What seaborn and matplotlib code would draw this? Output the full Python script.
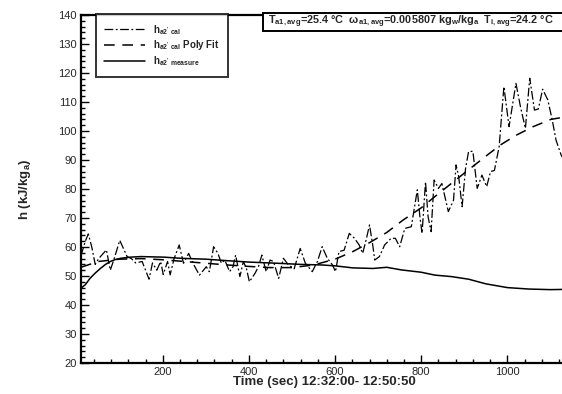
import matplotlib
matplotlib.use("Agg")
import matplotlib.pyplot as plt
from matplotlib.ticker import MultipleLocator
from matplotlib.patches import Rectangle
import seaborn as sns
import pandas as pd

# ---- data ----
t_cal = [10, 20, 27, 35, 43, 51, 60, 69, 78, 86,
         100, 117, 127, 137, 152, 168, 176, 186, 195, 201,
         211, 217, 226, 238, 248, 260, 270, 285, 301, 308,
         318, 328, 336, 344, 355, 363, 369, 379, 387, 394,
         401, 414, 422, 430, 440, 449, 457, 469, 480, 492,
         505, 519, 531, 547, 559, 570, 582, 594, 601, 609,
         621, 633, 645, 656, 664, 672, 680, 688, 692, 703,
         715, 730, 740, 750, 762, 777, 791, 797, 802, 810,
         816, 823, 830, 840, 848, 863, 875, 881, 887, 895,
         903, 910, 920, 930, 941, 952, 961, 970, 981, 992,
         1004, 1020, 1031, 1042, 1052, 1063, 1072, 1082, 1094, 1104,
         1113, 1125, 1134, 1140]
h_cal = [57, 62, 64.5, 60, 54, 56, 57.5, 59, 52, 55.5,
         62.3, 56.7, 56, 54.5, 55, 48.9, 54.5, 52, 55, 50.5,
         55, 50.4, 55.9, 60.7, 54.4, 57.8, 54.4, 50.3, 53.2, 51.5,
         60.1, 57.8, 54.4, 55.5, 51.5, 53.2, 57.2, 49.8, 55, 52.7,
         48, 50.9, 53.2, 57.2, 51.5, 55.5, 55, 49.2, 56.1, 53.8,
         52.5, 59.5, 54.4, 51.5, 55, 60.1, 56.1, 53.8, 51.5, 58.4,
         58.9, 64.7, 63, 60.7, 57.8, 62.4, 67.6, 60.1, 55.5, 56.7,
         60.7, 63, 63, 60.1, 66.4, 67, 79.7, 70.4, 64.7, 82.5,
         70.4, 65.3, 83.1, 80.2, 81.9, 72.2, 76.1, 88.3, 84.3, 73.9,
         87.1, 92.9, 93, 80.2, 84.8, 80.8, 86, 86.4, 94.6, 115.3,
         101.5, 116.4, 108, 100.9, 118.2, 107.2, 107.6, 114.4, 110.7, 104,
         96.9, 91.7, 89.4, 88.5]

t_fit = [10, 50, 100, 150, 200, 250, 300, 350, 400, 450,
         500, 550, 600, 641, 680, 720, 758, 800, 836, 875,
         914, 950, 984, 1020, 1060, 1101, 1140]
h_fit = [53, 55, 55.8, 56, 55.6, 55, 54.4, 53.8, 53.3, 52.9,
         52.9, 53.8, 55.8, 58.4, 61.5, 65, 69.3, 73.5, 77.9, 82.5,
         87.1, 91.3, 95.2, 98.5, 101.5, 104, 105]

t_meas = [10, 20, 31, 43, 55, 67, 78, 90, 102, 125,
          149, 175, 203, 242, 300, 348, 400, 465, 520, 570,
          600, 641, 688, 720, 754, 800, 832, 870, 910, 950,
          1000, 1050, 1100, 1140]
h_meas = [45.8, 47, 49.2, 51, 52.6, 54, 55, 55.7, 56.1, 56.5,
          56.7, 56.6, 56.5, 56.1, 55.8, 55.3, 54.8, 54.4, 54, 53.8,
          53.5, 52.8, 52.6, 53, 52.1, 51.3, 50.3, 49.8, 48.9, 47.3,
          46, 45.5, 45.3, 45.4]

labels = [r"h$_{\mathregular{a2'\ cal}}$",
          r"h$_{\mathregular{a2'\ cal}}$ Poly Fit",
          r"h$_{\mathregular{a2'\ measure}}$"]
info_text = (r"T$_{\mathregular{a1,avg}}$=25.4 °C  ω$_{\mathregular{a1,avg}}$=0.005807 "
             r"kg$_{\mathregular{w}}$/kg$_{\mathregular{a}}$  T$_{\mathregular{i,avg}}$=24.2 °C")

# ---- style ----
sns.set_style("ticks")
plt.rcParams["font.family"] = ["Liberation Sans", "DejaVu Sans"]
plt.rcParams["mathtext.fontset"] = "custom"
plt.rcParams["mathtext.rm"] = "Liberation Sans:bold"
plt.rcParams["mathtext.it"] = "Liberation Sans:bold"
plt.rcParams["mathtext.bf"] = "Liberation Sans:bold"
plt.rcParams["mathtext.default"] = "regular"

fig = plt.figure(figsize=(5.62, 3.94), dpi=100)
ax = fig.add_axes([81/562, 1 - 363/394, 1 - 81/562 + 0.01, (363 - 15)/394])

df_cal = pd.DataFrame({"t": t_cal, "h": h_cal})
df_fit = pd.DataFrame({"t": t_fit, "h": h_fit})
df_meas = pd.DataFrame({"t": t_meas, "h": h_meas})

sns.lineplot(data=df_cal, x="t", y="h", ax=ax, color="black", lw=0.9,
             label=labels[0], estimator=None, sort=False)
ax.lines[-1].set_dashes([7, 2, 1.5, 2])
sns.lineplot(data=df_fit, x="t", y="h", ax=ax, color="black", lw=1.1,
             label=labels[1], estimator=None, sort=False)
ax.lines[-1].set_dashes([7, 5])
sns.lineplot(data=df_meas, x="t", y="h", ax=ax, color="black", lw=1.1,
             label=labels[2], estimator=None, sort=False)

ax.set_xlim(10, 1140)
ax.set_ylim(20, 140)
ax.xaxis.set_major_locator(MultipleLocator(200))
ax.xaxis.set_minor_locator(MultipleLocator(40))
ax.yaxis.set_major_locator(MultipleLocator(10))
ax.yaxis.set_minor_locator(MultipleLocator(2))
ax.tick_params(which="both", direction="in", top=False, right=False,
               labelsize=8, width=1, color="black", pad=3)
ax.tick_params(which="major", length=6)
ax.tick_params(which="minor", length=3)
for side in ["left", "bottom", "top"]:
    ax.spines[side].set_linewidth(1.6)
    ax.spines[side].set_color("black")
ax.spines["right"].set_visible(False)

ax.set_xlabel("Time (sec) 12:32:00- 12:50:50", fontsize=9.5, fontweight="bold", labelpad=-1)
ax.set_ylabel(r"h (kJ/kg$_{\mathregular{a}}$)", fontsize=9.5, fontweight="bold", labelpad=18)

leg = ax.legend(loc="upper left", bbox_to_anchor=(0.03, 1.003), fontsize=7,
                frameon=True, fancybox=False, handlelength=4.2, handletextpad=0.8,
                borderpad=0.9, labelspacing=0.2, borderaxespad=0)
leg.get_frame().set_edgecolor("black")
leg.get_frame().set_linewidth(1.4)
for txt in leg.get_texts():
    txt.set_fontweight("bold")

# info box (runs off the right edge like the reference)
fig.patches.append(Rectangle((263/562, 1 - 31/394), 320/562, 18/394,
                             transform=fig.transFigure, fc="white", ec="black",
                             lw=1.4, zorder=5))
fig.text(268/562, 1 - 22/394, info_text, fontsize=7.85, fontweight="bold",
         ha="left", va="center", zorder=6)

fig.savefig("out.png", dpi=100)
